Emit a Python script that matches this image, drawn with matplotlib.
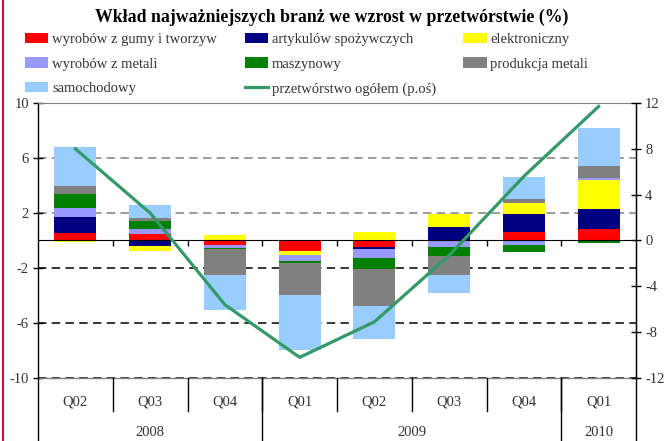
import numpy as np
import matplotlib.pyplot as plt
from matplotlib.lines import Line2D

plt.rcParams['font.family'] = ['Liberation Serif', 'DejaVu Serif']
plt.rcParams['axes.unicode_minus'] = False

# data
quarters = ['Q02', 'Q03', 'Q04', 'Q01', 'Q02', 'Q03', 'Q04', 'Q01']
years = ['2008', '2009', '2010']
year_span = [3, 4, 1]   # number of quarters under each year

names = ['wyrobów z gumy i tworzyw', 'artykulów spożywczych', 'elektroniczny',
         'wyrobów z metali', 'maszynowy', 'produkcja metali', 'samochodowy']
colors = ['#FF0000', '#000080', '#FFFF00', '#9999FF', '#008000', '#808080', '#99CCFF']

guma = [0.53, 0.46, -0.34, -0.77, -0.48, 0.0, 0.60, 0.82]
spozywcze = [1.16, -0.41, 0.0, 0.0, -0.12, 0.96, 1.30, 1.45]
elektro = [-0.08, -0.36, 0.39, -0.29, 0.60, 0.94, 0.80, 2.10]
metale = [0.65, 0.36, -0.19, -0.43, -0.67, -0.45, -0.34, 0.14]
maszyny = [1.01, 0.58, -0.07, -0.14, -0.80, -0.65, -0.51, -0.19]
prod_metali = [0.58, 0.22, -1.90, -2.31, -2.67, -1.40, 0.29, 0.94]
samochody = [2.89, 0.94, -2.53, -4.02, -2.46, -1.30, 1.66, 2.75]
series = [guma, spozywcze, elektro, metale, maszyny, prod_metali, samochody]

ogolem = [8.0, 2.4, -5.6, -10.2, -7.1, -1.3, 5.6, 11.7]
line_name = 'przetwórstwo ogółem (p.oś)'

fig = plt.figure(figsize=(6.64, 4.41), dpi=100)
W, H = 664, 441
ax = fig.add_axes([38 / W, 1 - 378 / H, 598 / W, 275 / H])
x = np.arange(len(quarters))

# gridlines (drawn first so bars sit on top)
for v in [6, 2]:
    ax.axhline(v, color='#808080', lw=1.1, ls=(0, (5.5, 3.5)), zorder=0)
for v in [10, -2, -6, -10]:
    ax.axhline(v, color='black', lw=1.1, ls=(0, (5.5, 3.5)), zorder=0)

pos = np.zeros(len(x))
neg = np.zeros(len(x))
handles = []
for vals, name, c in zip(series, names, colors):
    vals = np.array(vals)
    bottom = np.where(vals >= 0, pos, neg)
    b = ax.bar(x, vals, 0.56, bottom=bottom, color=c, label=name, zorder=2)
    handles.append(b)
    pos += np.clip(vals, 0, None)
    neg += np.clip(vals, None, 0)

ax.set_xlim(-0.5, len(x) - 0.5)
ax.set_ylim(-10, 10)
ax.set_yticks([10, 6, 2, -2, -6, -10])
ax.tick_params(axis='y', direction='inout', length=7, width=1, labelsize=10.5,
               labelcolor='#333333', pad=3)
ax.spines['top'].set_color('#808080')
ax.spines['bottom'].set_position(('data', 0))
ax.set_xticks(np.arange(0.5, len(x) - 1))
ax.tick_params(axis='x', direction='out', length=4, width=1, labelbottom=False)
for s in ['left', 'right']:
    ax.spines[s].set_linewidth(1)

ax2 = ax.twinx()
ln, = ax2.plot(x, ogolem, color='#339966', lw=2.3, label=line_name, zorder=3)
ax2.set_ylim(-12, 12)
ax2.set_yticks([12, 8, 4, 0, -4, -8, -12])
ax2.tick_params(axis='y', direction='inout', length=7, width=1, labelsize=10.5,
                labelcolor='#333333', pad=3)
for s in ['top', 'bottom', 'left']:
    ax2.spines[s].set_visible(False)

# category table under the plot
tr = ax.get_xaxis_transform()
ax.plot([-0.5, len(x) - 0.5], [0, 0], transform=tr, color='#808080', lw=1, clip_on=False)
for i, q in enumerate(quarters):
    ax.text(i, -0.087, q, transform=tr, ha='center', va='center', fontsize=10.5, color='#333333')
for b in np.arange(0.5, len(x) - 1):
    ax.plot([b, b], [0, -0.12], transform=tr, color='black', lw=1, clip_on=False)
start = 0
for yr, n in zip(years, year_span):
    ax.text(start + n / 2 - 0.5, -0.2, yr, transform=tr, ha='center', va='center',
            fontsize=10.5, color='#333333')
    start += n
edges = np.cumsum([0] + year_span) - 0.5
for e in edges:
    ax.plot([e, e], [0, -0.25], transform=tr, color='black', lw=1, clip_on=False)

fig.text(0.5, 1 - 17 / H, 'Wkład najważniejszych branż we wzrost w przetwórstwie (%)',
         ha='center', va='center', fontsize=12.8, fontweight='bold')

# legend, filled column by column
order = [0, 3, 6, 1, 4, 7, 2, 5]
all_h = handles + [ln]
all_l = names + [line_name]
fig.legend([all_h[i] for i in order], [all_l[i] for i in order], ncol=3,
           loc='upper left', bbox_to_anchor=(25 / W, 1 - 32.5 / H), frameon=False,
           fontsize=10.5, handlelength=1.6, handleheight=0.7, handletextpad=0.25,
           columnspacing=1.9, labelspacing=0.8, borderpad=0, borderaxespad=0,
           labelcolor='#333333')

fig.add_artist(Line2D([3 / W, 3 / W], [0, 1], color='#D2143C', lw=1.5))

fig.savefig('out.png', dpi=100)
